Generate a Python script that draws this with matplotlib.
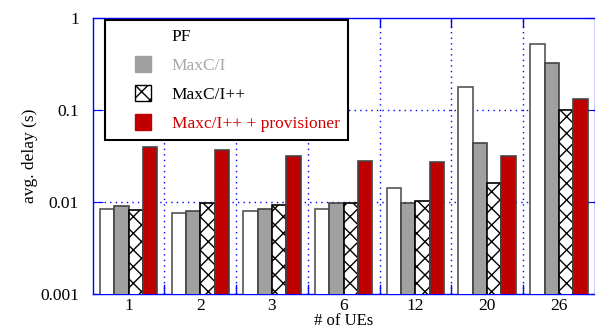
import matplotlib
matplotlib.use('Agg')
import matplotlib.pyplot as plt
import numpy as np
from matplotlib.patches import Patch, Rectangle
from matplotlib.legend_handler import HandlerPatch

ues = ['1', '2', '3', '6', '12', '20', '26']
pf = [0.0085, 0.0077, 0.0080, 0.0084, 0.0143, 0.179, 0.526]
maxci = [0.0091, 0.0080, 0.0085, 0.0097, 0.0097, 0.0435, 0.322]
maxci_pp = [0.0081, 0.0097, 0.0094, 0.0097, 0.0104, 0.0161, 0.100]
provisioner = [0.040, 0.0367, 0.0319, 0.0279, 0.0274, 0.0316, 0.131]

plt.rcParams['font.family'] = ['Liberation Serif', 'DejaVu Serif']
plt.rcParams['hatch.linewidth'] = 1.0

fig = plt.figure(figsize=(5.95, 3.3), dpi=100)
ax = fig.add_axes([0.1558, 0.109, 0.8437, 0.836])

x = np.arange(len(ues))
w = 0.2
ax.bar(x - 1.5 * w, pf, w, color='white', edgecolor='#555555', linewidth=1.2, zorder=3)
ax.bar(x - 0.5 * w, maxci, w, color='#a0a0a0', edgecolor='#444444', linewidth=1.2, zorder=3)
ax.bar(x + 0.5 * w, maxci_pp, w, color='white', edgecolor='black', hatch='xx', linewidth=1.2, zorder=3)
ax.bar(x + 1.5 * w, provisioner, w, color='#c00000', edgecolor='#444444', linewidth=1.2, zorder=3)

ax.set_yscale('log')
ax.set_ylim(0.001, 1)
ax.set_xlim(-0.5, len(ues) - 0.5)
ax.set_yticks([0.001, 0.01, 0.1, 1])
ax.set_yticklabels(['0.001', '0.01', '0.1', '1'])
ax.minorticks_off()
ax.set_xticks(x)
ax.set_xticklabels(ues)
ax.tick_params(axis='both', labelsize=12.5, color='blue', direction='in', length=0)
ax.tick_params(axis='x', pad=3)
ax.tick_params(axis='y', length=7, right=True, pad=10)

for s in ax.spines.values():
    s.set_color('blue')
    s.set_linewidth(1.0)

# grid between groups and at decades
for b in np.arange(0.5, len(ues) - 0.5, 1):
    ax.axvline(b, color='blue', linestyle=(0, (1, 3)), linewidth=1.0, zorder=1)
    ax.plot([b, b], [1, 0.8], color='blue', linewidth=1.0, zorder=1)
    ax.plot([b, b], [0.001, 0.00125], color='blue', linewidth=1.0, zorder=1)
for yv in [0.01, 0.1]:
    ax.axhline(yv, color='blue', linestyle=(0, (1, 3)), linewidth=1.0, zorder=1)

ax.set_ylabel('avg. delay (s)', fontsize=12.5, va='center')
ax.yaxis.set_label_coords(-0.124, 0.5)
ax.set_xlabel('# of UEs', fontsize=12, va='bottom')
ax.xaxis.set_label_coords(0.5, -0.128)


def square(legend, orig_handle, xdescent, ydescent, width, height, fontsize):
    return Rectangle((-xdescent + width - 11.5, -ydescent + height / 2 - 5.5), 11.5, 11)


handles = [
    Patch(facecolor='white', edgecolor='white', label='PF'),
    Patch(facecolor='#a0a0a0', edgecolor='#a0a0a0', label='MaxC/I'),
    Patch(facecolor='white', edgecolor='black', hatch='xx', label='MaxC/I++'),
    Patch(facecolor='#c00000', edgecolor='#c00000', label='Maxc/I++ + provisioner'),
]
leg = ax.legend(handles=handles, loc='upper left', bbox_to_anchor=(0.0245, 0.993),
                fontsize=12.5, fancybox=False, framealpha=1, edgecolor='black',
                handlelength=2.2, handleheight=0.9, handletextpad=1.2,
                borderpad=0.45, labelspacing=0.68, borderaxespad=0,
                handler_map={Patch: HandlerPatch(patch_func=square)})
leg.get_frame().set_linewidth(1.5)
leg.set_zorder(5)
for t, c in zip(leg.get_texts(), ['black', '#a8a8a8', 'black', '#cc0000']):
    t.set_color(c)

fig.savefig('out.png', dpi=100)
